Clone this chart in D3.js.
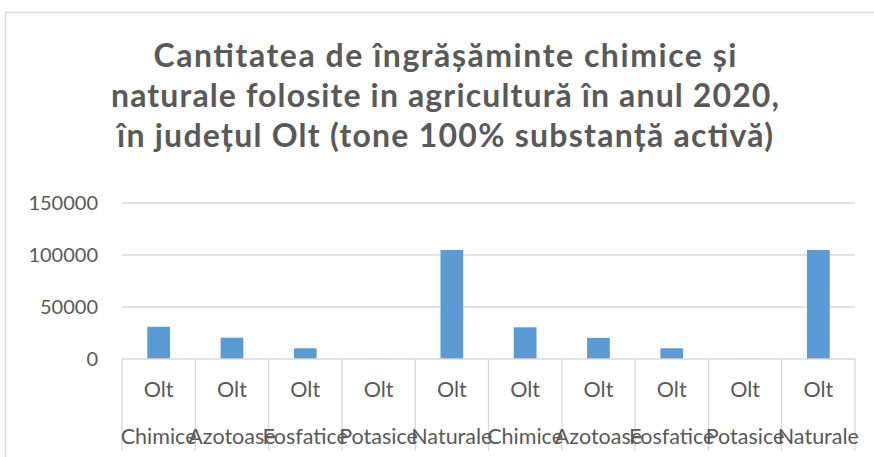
<!DOCTYPE html>
<html>
<head>
<meta charset="utf-8">
<script src="https://cdn.jsdelivr.net/npm/d3@7"></script>
<style>
  body { margin: 0; background: #fff; }
  svg { display: block; font-family: Lato, "Open Sans", sans-serif; }
</style>
</head>
<body>
<svg id="chart" width="874" height="457"></svg>
<script>
// chart data
var titleLines = [
  "Cantitatea de îngrășăminte chimice și",
  "naturale folosite in agricultură în anul 2020,",
  "în județul Olt (tone 100% substanță activă)"
];
var counties = ["Olt", "Olt", "Olt", "Olt", "Olt", "Olt", "Olt", "Olt", "Olt", "Olt"];
var types = ["Chimice", "Azotoase", "Fosfatice", "Potasice", "Naturale",
             "Chimice", "Azotoase", "Fosfatice", "Potasice", "Naturale"];
var values = [31000, 20500, 10300, 300, 104800, 30500, 20300, 10300, 300, 104800];
var yTicks = [0, 50000, 100000, 150000];

var svg = d3.select("#chart");
var textColor = "#595959";
var lineColor = "#d9d9d9";

// outer chart border
svg.append("rect")
  .attr("x", 5.5).attr("y", 12.5)
  .attr("width", 900).attr("height", 470)
  .attr("fill", "none")
  .attr("stroke", lineColor)
  .attr("stroke-width", 1.3);

// title (line widths stretched to the reference's wider face)
var titleWidths = [583, 668, 656];
svg.append("g").selectAll("text")
  .data(titleLines)
  .join("text")
  .attr("x", 445)
  .attr("y", function (d, i) { return 67 + i * 40; })
  .attr("text-anchor", "middle")
  .attr("font-size", 32)
  .attr("font-weight", "bold")
  .attr("fill", textColor)
  .attr("textLength", function (d, i) { return titleWidths[i]; })
  .attr("lengthAdjust", "spacing")
  .text(function (d) { return d; });

var plotLeft = 122, plotRight = 855, plotTop = 203, plotBottom = 359;
var idx = d3.range(values.length);

var x = d3.scaleBand().domain(idx).range([plotLeft, plotRight])
  .paddingInner(0.69).paddingOuter(0.345);
var xCat = d3.scaleBand().domain(idx).range([plotLeft, plotRight]);
var y = d3.scaleLinear().domain([0, 150000]).range([plotBottom, plotTop]);

// gridlines
svg.append("g").selectAll("line")
  .data(yTicks.filter(function (d) { return d > 0; }))
  .join("line")
  .attr("x1", plotLeft).attr("x2", plotRight)
  .attr("y1", function (d) { return y(d); })
  .attr("y2", function (d) { return y(d); })
  .attr("stroke", lineColor)
  .attr("stroke-width", 1.3);

// y tick labels
svg.append("g").selectAll("text")
  .data(yTicks)
  .join("text")
  .attr("x", 98)
  .attr("y", function (d) { return y(d); })
  .attr("dy", "0.36em")
  .attr("text-anchor", "end")
  .attr("font-size", 20)
  .attr("fill", textColor)
  .text(function (d) { return d; });

// bars
svg.append("g").selectAll("rect")
  .data(values)
  .join("rect")
  .attr("x", function (d, i) { return x(i); })
  .attr("width", x.bandwidth())
  .attr("y", function (d) { return y(d); })
  .attr("height", function (d) { return plotBottom - y(d); })
  .attr("fill", "#5b9bd5");

// category axis line and separators
svg.append("line")
  .attr("x1", plotLeft).attr("x2", plotRight)
  .attr("y1", plotBottom).attr("y2", plotBottom)
  .attr("stroke", lineColor).attr("stroke-width", 1.3);

svg.append("g").selectAll("line")
  .data(d3.range(values.length + 1))
  .join("line")
  .attr("x1", function (d) { return plotLeft + d * xCat.step(); })
  .attr("x2", function (d) { return plotLeft + d * xCat.step(); })
  .attr("y1", plotBottom).attr("y2", 451)
  .attr("stroke", lineColor).attr("stroke-width", 1.3);

// two-level category labels
svg.append("g").selectAll("text")
  .data(counties)
  .join("text")
  .attr("x", function (d, i) { return xCat(i) + xCat.bandwidth() / 2; })
  .attr("y", 397)
  .attr("text-anchor", "middle")
  .attr("font-size", 21.5)
  .attr("fill", textColor)
  .text(function (d) { return d; });

svg.append("g").selectAll("text")
  .data(types)
  .join("text")
  .attr("x", function (d, i) { return xCat(i) + xCat.bandwidth() / 2; })
  .attr("y", 444)
  .attr("text-anchor", "middle")
  .attr("font-size", 21.5)
  .attr("fill", textColor)
  .text(function (d) { return d; });
</script>
</body>
</html>
